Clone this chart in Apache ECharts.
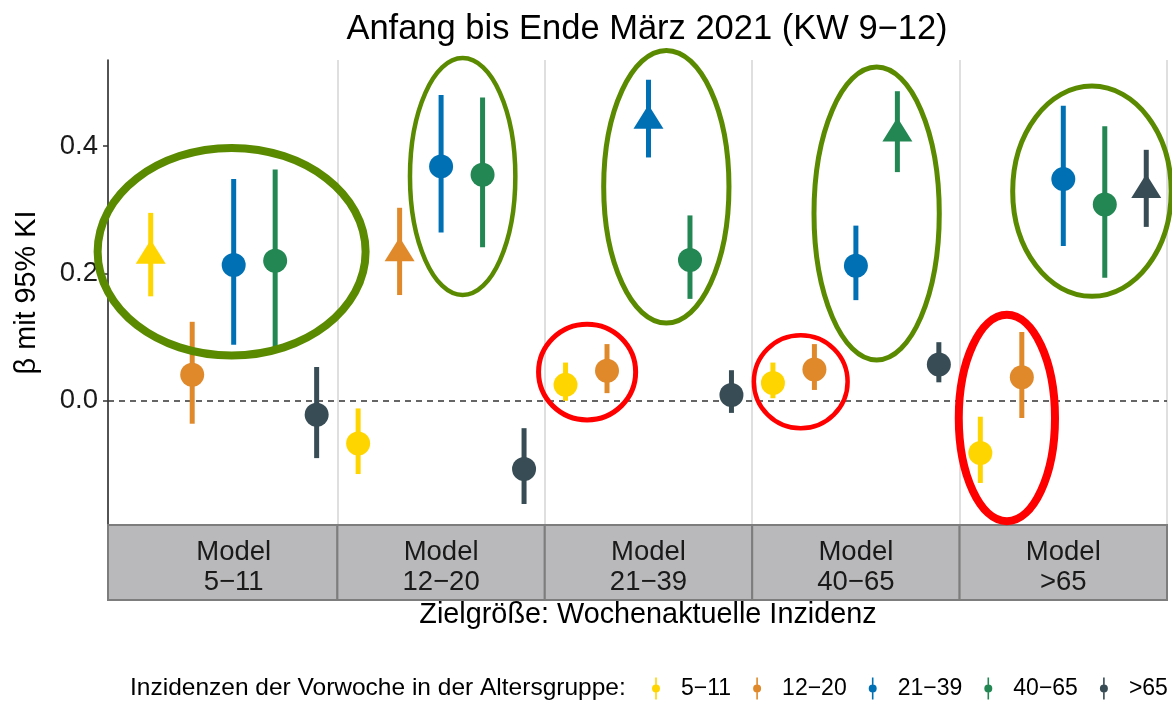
<!DOCTYPE html>
<html>
<head>
<meta charset="utf-8">
<script src="https://cdn.jsdelivr.net/npm/echarts@6/dist/echarts.min.js"></script>
<style>
  html, body { margin: 0; padding: 0; background: #fff; }
  #chart { width: 1172px; height: 702px; }
</style>
</head>
<body>
<div id="chart"></div>
<script>
// facets (models) and predictor groups
const panels = ['Model\n5−11', 'Model\n12−20', 'Model\n21−39', 'Model\n40−65', 'Model\n>65'];
const groups = ['5−11', '12−20', '21−39', '40−65', '>65'];
const colors = ['#FFD500', '#E0892B', '#0070B5', '#228752', '#374C54'];

// estimates per group, one value per model
const est511  = [0.234, -0.067, 0.025, 0.028, -0.082];
const lo511   = [0.164, -0.115, 0.000, 0.004, -0.129];
const hi511   = [0.295, -0.012, 0.060, 0.060, -0.025];

const est1220 = [0.041, 0.238, 0.047, 0.049, 0.037];
const lo1220  = [-0.036, 0.166, 0.012, 0.017, -0.027];
const hi1220  = [0.124, 0.303, 0.089, 0.089, 0.108];

const est2139 = [0.213, 0.368, 0.446, 0.212, 0.348];
const lo2139  = [0.088, 0.264, 0.382, 0.158, 0.243];
const hi2139  = [0.348, 0.480, 0.504, 0.275, 0.463];

const est4065 = [0.220, 0.355, 0.221, 0.426, 0.308];
const lo4065  = [0.083, 0.241, 0.160, 0.359, 0.193];
const hi4065  = [0.363, 0.476, 0.291, 0.486, 0.431];

const est65   = [-0.022, -0.107, 0.009, 0.057, 0.337];
const lo65    = [-0.090, -0.162, -0.019, 0.029, 0.273];
const hi65    = [0.053, -0.043, 0.048, 0.092, 0.394];

const yTicks = [0, 0.2, 0.4];

// highlight ellipses: centre x (slot), centre y, radius x (slots), radius y
const ringX  = [2.45, 8.02, 12.93, 11.02, 18.0, 16.17, 23.19, 21.14];
const ringY  = [0.234, 0.352, 0.336, 0.045, 0.294, 0.030, 0.329, -0.027];
const ringRX = [3.23, 1.27, 1.51, 1.17, 1.51, 1.13, 1.91, 1.16];
const ringRY = [0.163, 0.186, 0.214, 0.075, 0.230, 0.073, 0.165, 0.162];
const ringRed = [false, false, false, true, false, true, false, true];
const ringW  = [8, 4.5, 5, 5, 5, 4.5, 5, 8];

const allEst = [est511, est1220, est2139, est4065, est65];
const allLo = [lo511, lo1220, lo2139, lo4065, lo65];
const allHi = [hi511, hi1220, hi2139, hi4065, hi65];

const xMin = -0.53, xMax = 25;
const chart = echarts.init(document.getElementById('chart'));

const series = [];
groups.forEach((g, gi) => {
  const bars = [], pts = [];
  for (let p = 0; p < panels.length; p++) {
    const x = p * 5 + gi + 0.5;
    bars.push([x, allLo[gi][p], allHi[gi][p]]);
    const own = gi === p;
    pts.push({
      value: [x, allEst[gi][p]],
      symbol: own ? 'triangle' : 'circle',
      symbolSize: own ? [30, 24] : 24
    });
  }
  const s = {
    name: g,
    type: 'custom',
    xAxisIndex: 0, yAxisIndex: 0,
    itemStyle: { color: colors[gi] },
    encode: { x: 0, y: [1, 2] },
    data: bars,
    z: 3,
    renderItem: (params, api) => {
      const a = api.coord([api.value(0), api.value(1)]);
      const b = api.coord([api.value(0), api.value(2)]);
      return {
        type: 'line',
        shape: { x1: a[0], y1: a[1], x2: b[0], y2: b[1] },
        style: { stroke: colors[gi], lineWidth: 5 }
      };
    }
  };
  if (gi === 0) {
    s.markLine = {
      silent: true, symbol: 'none', label: { show: false }, z: 1,
      lineStyle: { color: '#d4d4d4', width: 1.5, type: 'solid' },
      data: [{ xAxis: 5 }, { xAxis: 10 }, { xAxis: 15 }, { xAxis: 20 }, { xAxis: 25 },
        { yAxis: 0, lineStyle: { color: '#333', width: 1.5, type: [6, 5] } }]
    };
  }
  series.push(s);
  series.push({
    name: g,
    type: 'scatter',
    xAxisIndex: 0, yAxisIndex: 0,
    itemStyle: { color: colors[gi], opacity: 1 },
    data: pts,
    z: 4
  });
});

// ellipses on top
series.push({
  type: 'custom',
  name: 'rings',
  xAxisIndex: 0, yAxisIndex: 0,
  clip: false,
  z: 10,
  silent: true,
  data: ringX.map((x, i) => [x, ringY[i], ringRX[i], ringRY[i]]),
  renderItem: (params, api) => {
    const i = params.dataIndex;
    const c = api.coord([api.value(0), api.value(1)]);
    const s = api.size([api.value(2), api.value(3)]);
    return {
      type: 'ellipse',
      shape: { cx: c[0], cy: c[1], rx: s[0], ry: s[1] },
      style: { fill: null, stroke: ringRed[i] ? '#FF0000' : '#5A8A00', lineWidth: ringW[i] }
    };
  }
});

// facet strips
series.push({
  type: 'custom',
  name: 'strips',
  xAxisIndex: 1, yAxisIndex: 1,
  silent: true,
  data: panels.map((p, i) => [i]),
  renderItem: (params, api) => {
    const i = api.value(0);
    const a = api.coord([i === 0 ? xMin : i * 5, 1]);
    const b = api.coord([(i + 1) * 5, 0]);
    const m = api.coord([i * 5 + 2.5, 0.5]);
    return {
      type: 'group',
      children: [
        { type: 'rect', shape: { x: a[0], y: a[1], width: b[0] - a[0], height: b[1] - a[1] },
          style: { fill: '#b9b9bb', stroke: '#7d7d7d', lineWidth: 2 } },
        { type: 'text', x: m[0], y: m[1] + 5,
          style: { text: panels[i], align: 'center', verticalAlign: 'middle',
            fontSize: 27.5, lineHeight: 30, fill: '#1a1a1a', fontFamily: 'Liberation Sans, Arial, sans-serif' } }
      ]
    };
  }
});

const legendIcon = 'path://M4.2,0H5.8V22H4.2Z M5,7A4,4 0 1 1 5,15A4,4 0 1 1 5,7Z';

chart.setOption({
  animation: false,
  textStyle: { fontFamily: 'Liberation Sans, Arial, sans-serif' },
  title: [
    { text: 'Anfang bis Ende März 2021 (KW 9−12)', left: 647, textAlign: 'center', top: 12, padding: 0,
      textStyle: { fontSize: 34.5, fontWeight: 'normal', color: '#000' } },
    { text: 'Zielgröße: Wochenaktuelle Inzidenz', left: 648, textAlign: 'center', top: 601, padding: 0,
      textStyle: { fontSize: 28.8, fontWeight: 'normal', color: '#000' } },
    { text: 'Inzidenzen der Vorwoche in der Altersgruppe:', left: 130, top: 676, padding: 0,
      textStyle: { fontSize: 24.5, fontWeight: 'normal', color: '#000' } }
  ],
  legend: {
    left: 652, top: 677, padding: 0,
    itemWidth: 40, itemHeight: 22, itemGap: 22,
    textStyle: { fontSize: 23, color: '#000' },
    data: groups.map(g => ({ name: g, icon: legendIcon }))
  },
  grid: [
    { left: 108, right: 5, top: 60, height: 465 },
    { left: 108, right: 5, top: 525, height: 75 }
  ],
  xAxis: [
    { type: 'value', gridIndex: 0, min: xMin, max: xMax, show: false },
    { type: 'value', gridIndex: 1, min: xMin, max: xMax, show: false }
  ],
  yAxis: [
    {
      type: 'value', gridIndex: 0, min: -0.195, max: 0.535,
      name: 'β mit 95% KI', nameLocation: 'middle', nameGap: 66, nameMoveOverlap: false,
      nameTextStyle: { fontSize: 28.8, color: '#000' },
      axisLine: { show: true, onZero: false, lineStyle: { color: '#1a1a1a', width: 1.5 } },
      axisTick: { show: true, customValues: yTicks, length: 5, lineStyle: { color: '#333', width: 1.5 } },
      axisLabel: { customValues: yTicks, fontSize: 27.5, color: '#1a1a1a', margin: 10,
        formatter: v => v.toFixed(1) },
      splitLine: { show: false }
    },
    { type: 'value', gridIndex: 1, min: 0, max: 1, show: false }
  ],
  series: series
});
</script>
</body>
</html>
